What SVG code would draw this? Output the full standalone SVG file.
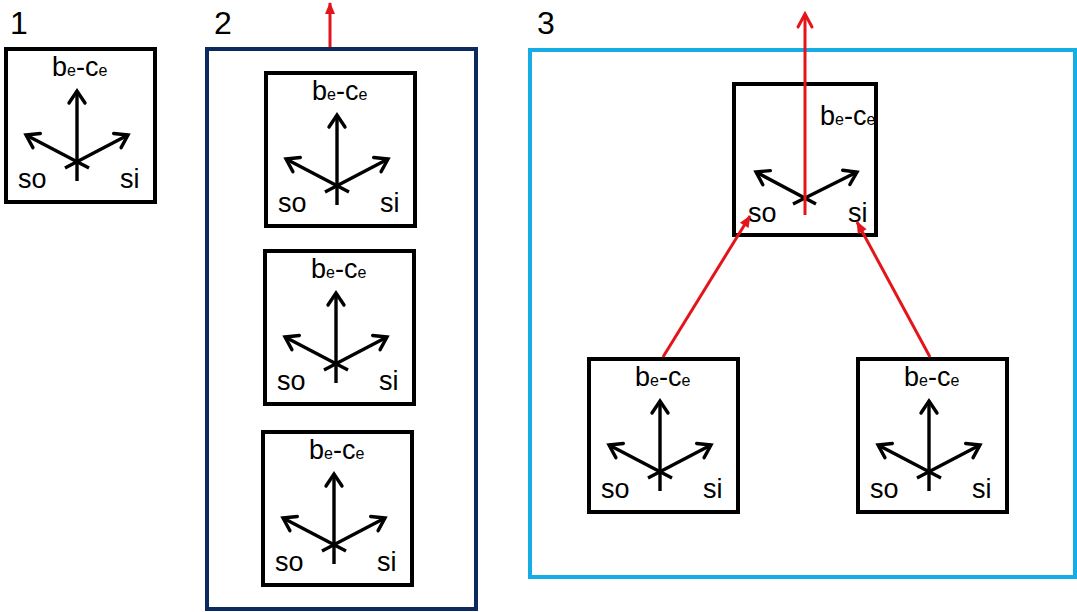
<svg xmlns="http://www.w3.org/2000/svg" width="1077" height="612" viewBox="0 0 1077 612">
<style>
.box{fill:none;stroke:#000;stroke-width:4}
.ar{stroke:#000;stroke-width:3.4;fill:none;marker-end:url(#bh)}
.t{font-family:"Liberation Sans",Arial,sans-serif;font-size:27px;fill:#000}
.s{font-size:16px}
.num{font-family:"Liberation Sans",Arial,sans-serif;font-size:32px;fill:#000}
.red{stroke:#e3151a;stroke-width:3;fill:none}
</style>
<defs>
<marker id="bh" markerUnits="userSpaceOnUse" markerWidth="20" markerHeight="20" viewBox="-14 -10 20 20" refX="0" refY="0" orient="auto" overflow="visible">
<path d="M-12,-8 L0,0 L-12,8" fill="none" stroke="#000" stroke-width="3.4" stroke-linecap="round" stroke-linejoin="miter"/>
</marker>
<marker id="rh" markerUnits="userSpaceOnUse" markerWidth="20" markerHeight="20" viewBox="-16 -10 20 20" refX="0" refY="0" orient="auto" overflow="visible">
<path d="M-13,-7 L0,0 L-13,7" fill="none" stroke="#e3151a" stroke-width="3" stroke-linecap="round"/>
</marker>
<marker id="rf" markerUnits="userSpaceOnUse" markerWidth="20" markerHeight="20" viewBox="-14 -10 20 20" refX="0" refY="0" orient="auto" overflow="visible">
<path d="M-11,-5 L1,0 L-11,5 Z" fill="#e3151a"/>
</marker>
<g id="cell">
<rect class="box" x="0" y="0" width="149" height="153"/>
<line class="ar" x1="71" y1="132" x2="71" y2="42"/>
<line class="ar" x1="83" y1="119" x2="20" y2="86"/>
<line class="ar" x1="59" y1="119" x2="122" y2="86"/>
<text class="t" x="46" y="27">b<tspan class="s">e</tspan>-c<tspan class="s">e</tspan></text>
<text class="t" x="12" y="139">so</text>
<text class="t" x="114" y="139">si</text>
</g>
</defs>
<g id="labels">
<text class="num" x="10" y="34">1</text>
<text class="num" x="214" y="34">2</text>
<text class="num" x="537" y="34">3</text>
</g>
<g id="panel1">
<use href="#cell" x="6" y="49"/>
</g>
<g id="panel2">
<rect x="207" y="49" width="269" height="560" fill="none" stroke="#0d2a5e" stroke-width="4"/>
<g id="p2a"><use href="#cell" x="266" y="73"/></g>
<g id="p2b"><use href="#cell" x="265" y="251"/></g>
<g id="p2c"><use href="#cell" x="263" y="432"/></g>
</g>
<g id="panel3">
<rect x="530" y="50" width="545" height="527" fill="none" stroke="#16ace6" stroke-width="4"/>
<g id="p3top">
<rect class="box" x="734" y="84" width="142" height="151"/>
<line class="ar" x1="816" y1="204" x2="756" y2="172"/>
<line class="ar" x1="793" y1="204" x2="857" y2="172"/>
<text class="t" x="820" y="125">b<tspan class="s">e</tspan>-c<tspan class="s">e</tspan></text>
<text class="t" x="748" y="222">so</text>
<text class="t" x="848" y="222">si</text>
</g>
<g id="p3left"><use href="#cell" x="589" y="359"/></g>
<g id="p3right"><use href="#cell" x="858" y="359"/></g>
</g>
<g id="connectors">
<line class="red" x1="330" y1="47" x2="330" y2="3" marker-end="url(#rf)"/>
<line class="red" x1="805" y1="215" x2="805" y2="14" marker-end="url(#rh)"/>
<line class="red" x1="663" y1="357" x2="750" y2="216" marker-end="url(#rf)"/>
<line class="red" x1="930" y1="357" x2="857" y2="222" marker-end="url(#rf)"/>
</g>
</svg>
